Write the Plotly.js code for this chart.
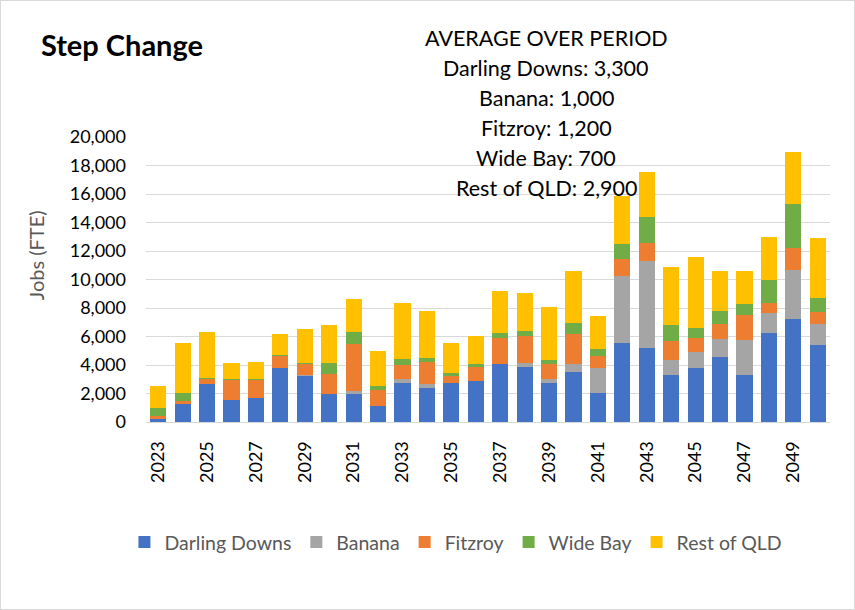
<!DOCTYPE html>
<html>
<head>
<meta charset="utf-8">
<script src="https://cdn.plot.ly/plotly-3.0.1.min.js"></script>
<style>
  html, body { margin: 0; padding: 0; background: #fff; }
  #chart { width: 855px; height: 610px; box-sizing: border-box; border: 1px solid #d9d9d9; }
</style>
</head>
<body>
<div id="chart"></div>
<script>
const years = [2023,2024,2025,2026,2027,2028,2029,2030,2031,2032,2033,2034,2035,2036,2037,2038,2039,2040,2041,2042,2043,2044,2045,2046,2047,2048,2049,2050];
const darlingDowns = [200,1230,2640,1510,1650,3770,3250,1935,1935,1115,2730,2380,2710,2870,4070,3860,2730,3480,2030,5550,5190,3270,3790,4540,3270,6250,7210,5380];
const banana       = [0,0,0,0,0,0,70,0,235,0,280,260,0,0,0,280,260,560,1760,4715,6100,1105,1125,1265,2465,1385,3450,1500];
const fitzroy      = [200,260,400,1460,1270,870,780,1410,3305,1100,965,1570,490,960,1830,1900,1080,2110,840,1175,1290,1310,985,1080,1760,750,1570,845];
const wideBay      = [560,515,50,70,90,95,70,775,820,305,420,260,210,210,350,330,280,800,490,1055,1785,1105,680,890,800,1570,3070,985];
const restOfQLD    = [1600,3540,3260,1080,1175,1430,2340,2675,2320,2440,3940,3310,2110,1970,2930,2670,3730,3640,2300,3330,3190,4080,5000,2815,2300,3025,3660,4200];
const seriesNames  = ["Darling Downs","Banana","Fitzroy","Wide Bay","Rest of QLD"];
const seriesColors = ["#4472C4","#A5A5A5","#ED7D31","#70AD47","#FFC000"];
const xTicks = [2023,2025,2027,2029,2031,2033,2035,2037,2039,2041,2043,2045,2047,2049];
const yTicks = [0,2000,4000,6000,8000,10000,12000,14000,16000,18000,20000];
const titleText = "Step Change";
const yTitleText = "Jobs (FTE)";
const avgLines = ["AVERAGE OVER PERIOD","Darling Downs: 3,300","Banana: 1,000","Fitzroy: 1,200","Wide Bay: 700","Rest of QLD: 2,900"];

const FONT = "Lato, 'Noto Sans', sans-serif";
const values = [darlingDowns, banana, fitzroy, wideBay, restOfQLD];
const traces = values.map((v, i) => ({
  type: "bar", x: years, y: v, name: seriesNames[i],
  marker: { color: seriesColors[i], line: { width: 0 } },
  hoverinfo: "x+y+name"
}));

const plotLeft = 145, plotW = 684;
const plotTop = 137, plotBottom = 421.5, plotH = plotBottom - plotTop;
const annLineY = [38, 68, 98, 128, 158, 188];
const annotations = avgLines.map((t, i) => ({
  text: t, xref: "paper", yref: "paper",
  x: (545 - plotLeft) / plotW, y: (plotBottom - annLineY[i]) / plotH,
  xanchor: "center", yanchor: "middle", showarrow: false,
  font: { family: FONT, size: 21.5, color: "#000" }
}));
annotations.push({
  text: yTitleText, xref: "paper", yref: "paper",
  x: (35 - plotLeft) / plotW, y: (plotBottom - 255) / plotH,
  xanchor: "center", yanchor: "middle", showarrow: false, textangle: -90,
  font: { family: FONT, size: 20, color: "#595959" }
});

const layout = {
  width: 853, height: 608,
  margin: { l: plotLeft, r: 853 - plotLeft - plotW, t: 136, b: 187, pad: 0 },
  paper_bgcolor: "#fff", plot_bgcolor: "#fff",
  barmode: "stack", bargap: 0.34,
  title: { text: "<b>" + titleText + "</b>", x: 40/855, xanchor: "left", xref: "container",
           y: 1 - 45/610, yanchor: "middle", yref: "container",
           font: { family: FONT, size: 29, color: "#000" } },
  xaxis: {
    tickmode: "array", tickvals: xTicks, ticktext: xTicks.map(String),
    tickangle: -90, range: [2022.5, 2050.5],
    tickfont: { family: FONT, size: 18, color: "#000" },
    ticklabelstandoff: 11,
    showgrid: false, zeroline: false, showline: true, linecolor: "#d9d9d9", linewidth: 1,
    ticks: "", fixedrange: true
  },
  yaxis: {
    range: [0, 20000], tickmode: "array", tickvals: yTicks,
    ticktext: yTicks.map(v => v.toLocaleString("en-US")),
    tickfont: { family: FONT, size: 18, color: "#000" },
    ticklabelstandoff: 19,
    showgrid: true, gridcolor: "#d9d9d9", gridwidth: 1, zeroline: false,
    showline: false, ticks: "", ticklen: 0, automargin: false,
    fixedrange: true
  },
  legend: {
    orientation: "h", x: 456/855, xref: "container", xanchor: "center",
    y: 1 - 543/610, yref: "container", yanchor: "middle",
    font: { family: FONT, size: 19.5, color: "#595959" },
    traceorder: "normal", itemwidth: 30
  },
  annotations: annotations,
  showlegend: true
};

Plotly.newPlot("chart", traces, layout, { displayModeBar: false, staticPlot: true });
</script>
</body>
</html>
